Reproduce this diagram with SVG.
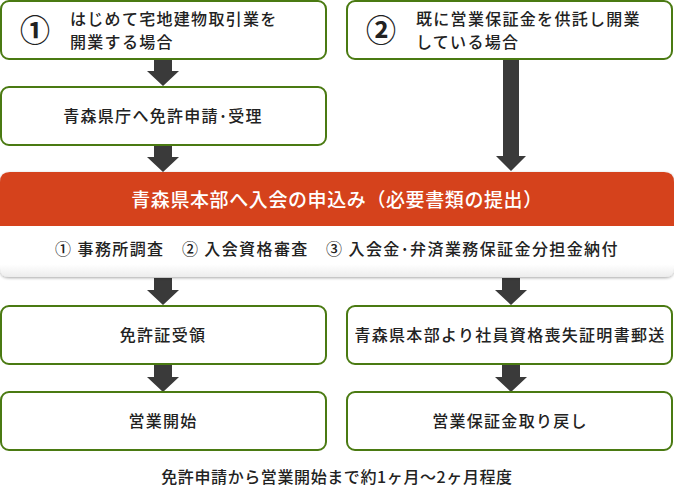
<svg xmlns="http://www.w3.org/2000/svg" width="674" height="489" viewBox="0 0 674 489">
<defs>
<style>
text{font-family:"Noto Sans CJK JP","Noto Sans",sans-serif;fill:#222;}
.box{fill:#fff;stroke:#4a7a12;stroke-width:2;}
.t{font-size:16px;letter-spacing:1.3px;font-weight:500;}
.c{text-anchor:middle;}
.num{font-size:30px;font-weight:bold;text-anchor:middle;}
.arr{fill:#3a3a3a;}
</style>
<linearGradient id="wg" x1="0" y1="0" x2="0" y2="1">
<stop offset="0" stop-color="#ffffff"/>
<stop offset="0.75" stop-color="#ffffff"/>
<stop offset="1" stop-color="#ececec"/>
</linearGradient>
<filter id="sh" x="-5%" y="-10%" width="110%" height="130%">
<feGaussianBlur in="SourceAlpha" stdDeviation="1.5"/>
<feOffset dy="1"/>
<feComponentTransfer><feFuncA type="linear" slope="0.35"/></feComponentTransfer>
<feMerge><feMergeNode/><feMergeNode in="SourceGraphic"/></feMerge>
</filter>
</defs>

<g id="connectors">
<path class="arr" d="M154,59 H172 V71 H179 L163,86 L147,71 H154 Z"/>
<path class="arr" d="M154,145 H172 V157 H179 L163,172 L147,157 H154 Z"/>
<path class="arr" d="M503,59 H519 V156 H526 L511,171 L496,156 H503 Z"/>
<path class="arr" d="M154,278 H172 V290 H179 L163,305 L147,290 H154 Z"/>
<path class="arr" d="M502,278 H520 V290 H527 L511,305 L495,290 H502 Z"/>
<path class="arr" d="M154,364 H172 V377 H179 L163,392 L147,377 H154 Z"/>
<path class="arr" d="M502,364 H520 V377 H527 L511,392 L495,377 H502 Z"/>
</g>

<g id="n1">
<rect class="box" x="1" y="1" width="325" height="58" rx="8"/>
<text class="num" x="35" y="41">①</text>
<text class="t" x="70" y="25">はじめて宅地建物取引業を</text>
<text class="t" x="70" y="48">開業する場合</text>
</g>

<g id="n2">
<rect class="box" x="347" y="1" width="325" height="58" rx="8"/>
<text class="num" x="381" y="41">②</text>
<text class="t" x="416" y="25">既に営業保証金を供託し開業</text>
<text class="t" x="416" y="48">している場合</text>
</g>

<g id="n3">
<rect class="box" x="1" y="87" width="325" height="58" rx="8"/>
<text class="t c" x="163" y="122">青森県庁へ免許申請･受理</text>
</g>

<g id="n4">
<g filter="url(#sh)">
<path d="M0,226 H674 V268 Q674,277 665,277 H9 Q0,277 0,268 Z" fill="url(#wg)"/>
<path d="M0,182 Q0,172 10,172 H664 Q674,172 674,182 V226 H0 Z" fill="#d5421b"/>
</g>
<text class="c" x="337" y="207" style="font-size:19px;font-weight:500;fill:#fff;letter-spacing:0.6px">青森県本部へ入会の申込み（必要書類の提出）</text>
<text class="c" x="337" y="255" style="font-size:16px;font-weight:500;letter-spacing:1.4px">① 事務所調査　② 入会資格審査　③ 入会金･弁済業務保証金分担金納付</text>
</g>

<g id="n5">
<rect class="box" x="1" y="306" width="325" height="58" rx="8"/>
<text class="t c" x="163" y="341">免許証受領</text>
</g>

<g id="n6">
<rect class="box" x="347" y="306" width="325" height="58" rx="8"/>
<text class="t c" x="510" y="341">青森県本部より社員資格喪失証明書郵送</text>
</g>

<g id="n7">
<rect class="box" x="1" y="392" width="325" height="58" rx="8"/>
<text class="t c" x="163" y="427">営業開始</text>
</g>

<g id="n8">
<rect class="box" x="347" y="392" width="325" height="58" rx="8"/>
<text class="t c" x="510" y="427">営業保証金取り戻し</text>
</g>

<text class="c" x="337" y="483" style="font-size:16px;font-weight:500;letter-spacing:0.6px">免許申請から営業開始まで約1ヶ月〜2ヶ月程度</text>
</svg>
